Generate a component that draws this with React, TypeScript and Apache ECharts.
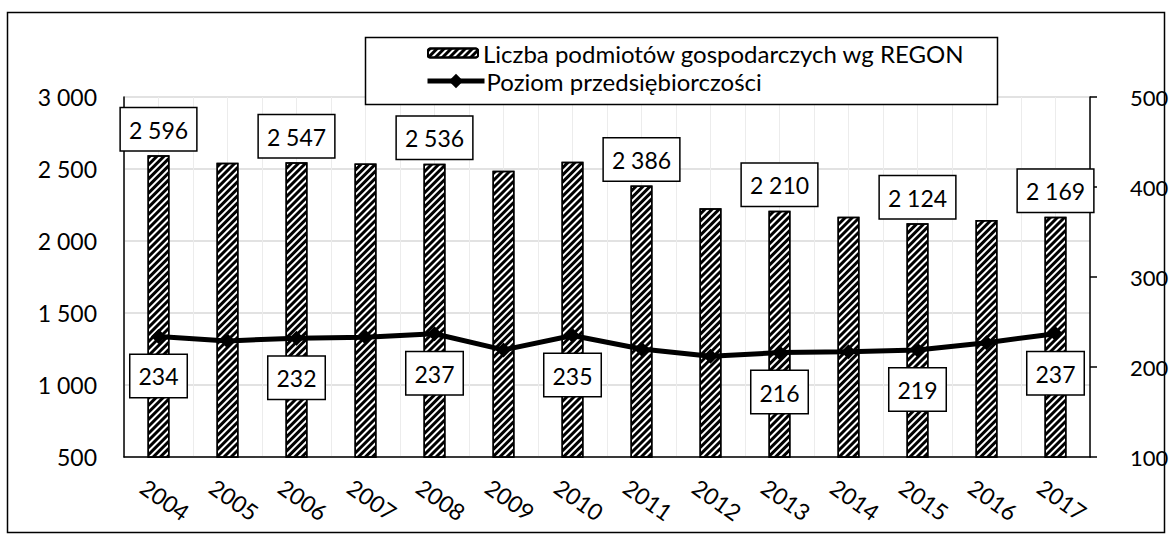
import React, { useEffect, useRef } from "react";
import * as echarts from "echarts";

const years = ["2004", "2005", "2006", "2007", "2008", "2009", "2010", "2011", "2012", "2013", "2014", "2015", "2016", "2017"];
const firms = [2596, 2543, 2547, 2538, 2536, 2487, 2550, 2386, 2227, 2210, 2169, 2124, 2145, 2169];
const entre = [234, 229, 232, 233, 237, 219, 235, 220, 212, 216, 217, 219, 227, 237];
const firmLabelYears = ["2004", "2006", "2008", "2011", "2013", "2015", "2017"];
const entreLabelYears = ["2004", "2006", "2008", "2010", "2013", "2015", "2017"];
const leftTicks = [500, 1000, 1500, 2000, 2500, 3000];
const rightTicks = [100, 200, 300, 400, 500];
const barName = "Liczba podmiotów gospodarczych wg REGON";
const lineName = "Poziom przedsiębiorczości";

const FONT = "Lato";
const fmt = (v: number) => {
  const s = String(Math.round(v));
  return s.replace(/\B(?=(\d{3})+(?!\d))/g, " ");
};

export default function App() {
  const ref = useRef<HTMLDivElement>(null);
  useEffect(() => {
    if (!ref.current) return;
    const chart = echarts.init(ref.current, null, { renderer: "svg" });
    const boxLabel = {
      show: true,
      color: "#000",
      fontFamily: FONT,
      fontSize: 23,
      backgroundColor: "#fff",
      borderColor: "#000",
      borderWidth: 1.5,
      padding: [10, 8, 9, 8],
      formatter: (p: any) => fmt(p.value),
    };
    const decal = {
      symbol: "rect",
      symbolSize: 1,
      color: "#000",
      dashArrayX: [2.5, 2],
      dashArrayY: [1, 0],
      rotation: Math.PI / 4,
    };
    chart.setOption({
      animation: false,
      textStyle: { fontFamily: FONT },
      graphic: [
        {
          type: "rect",
          shape: { x: 7.5, y: 12.5, width: 1157, height: 520 },
          style: { fill: "none", stroke: "#000", lineWidth: 1.5 },
          silent: true,
          z: 100,
        },
        {
          type: "rect",
          shape: { x: 365.5, y: 37.5, width: 632, height: 67 },
          style: { fill: "#fff", stroke: "#000", lineWidth: 1.5 },
          silent: true,
          z: 3,
        },
      ],
      legend: [
        {
          orient: "horizontal",
          left: 427,
          top: 41,
          padding: 0,
          itemWidth: 50,
          itemHeight: 9,
          itemGap: 0,
          textStyle: { fontFamily: FONT, fontSize: 24, lineHeight: 24, color: "#000", padding: [0, 0, 0, 0] },
          data: [barName],
          z: 10,
        },
        {
          orient: "horizontal",
          left: 425,
          top: 69,
          padding: 0,
          itemWidth: 57,
          itemHeight: 18,
          itemGap: 0,
          lineStyle: { width: 5, color: "#000" },
          textStyle: { fontFamily: FONT, fontSize: 24, lineHeight: 24, color: "#000", padding: [0, 0, 0, -3] },
          data: [lineName],
          z: 10,
        },
      ],
      grid: { left: 124, right: 82, top: 97, bottom: 84 },
      xAxis: [
        {
          type: "category",
          data: years,
          boundaryGap: true,
          axisLine: { show: true, lineStyle: { color: "#000", width: 1.5 } },
          axisTick: { show: false },
          splitLine: { show: true, lineStyle: { color: "#ececec", width: 1 } },
          axisLabel: {
            color: "#000",
            fontFamily: FONT,
            fontSize: 23,
            rotate: -35,
            align: "center",
            verticalAlign: "middle",
            margin: 38,
            padding: [0, 0, 0, 16],
          },
        },
        {
          type: "value",
          min: 0,
          max: 14,
          interval: 0.5,
          position: "bottom",
          show: true,
          axisLine: { show: false },
          axisTick: { show: false },
          axisLabel: { show: false },
          splitLine: { show: true, lineStyle: { color: "#ececec", width: 1 } },
        },
      ],
      yAxis: [
        {
          type: "value",
          min: leftTicks[0],
          max: leftTicks[leftTicks.length - 1],
          interval: 500,
          axisLine: { show: true, lineStyle: { color: "#000", width: 1.5 } },
          axisTick: { show: false },
          splitLine: { show: true, lineStyle: { color: "#d9d9d9", width: 1.5 } },
          axisLabel: { color: "#000", fontFamily: FONT, fontSize: 23, margin: 27, formatter: (v: number) => fmt(v) },
        },
        {
          type: "value",
          min: rightTicks[0],
          max: rightTicks[rightTicks.length - 1],
          interval: 100,
          position: "right",
          axisLine: { show: true, lineStyle: { color: "#000", width: 1.5 } },
          axisTick: { show: true, inside: false, length: 7, lineStyle: { color: "#000", width: 1.5 } },
          splitLine: { show: false },
          axisLabel: { color: "#000", fontFamily: FONT, fontSize: 22, margin: 40 },
        },
      ],
      series: [
        {
          name: barName,
          type: "bar",
          xAxisIndex: 0,
          yAxisIndex: 0,
          barWidth: 22,
          itemStyle: {
            color: "#fff",
            borderColor: "#000",
            borderWidth: 1.5,
            decal,
          },
          data: firms.map((v, i) => ({
            value: v,
            label: firmLabelYears.includes(years[i])
              ? { ...boxLabel, position: "top", distance: 5 }
              : { show: false },
          })),
          z: 2,
        },
        {
          name: lineName,
          type: "line",
          xAxisIndex: 0,
          yAxisIndex: 1,
          symbol: "diamond",
          symbolSize: 15,
          lineStyle: { color: "#000", width: 5 },
          itemStyle: { color: "#000" },
          data: entre.map((v, i) => ({
            value: v,
            label: entreLabelYears.includes(years[i])
              ? { ...boxLabel, position: "bottom", distance: 11 }
              : { show: false },
          })),
          z: 3,
        },
      ],
    });
    return () => chart.dispose();
  }, []);
  return <div ref={ref} style={{ position: "fixed", left: 0, top: 0, width: 1172, height: 541, background: "#fff" }} />;
}
